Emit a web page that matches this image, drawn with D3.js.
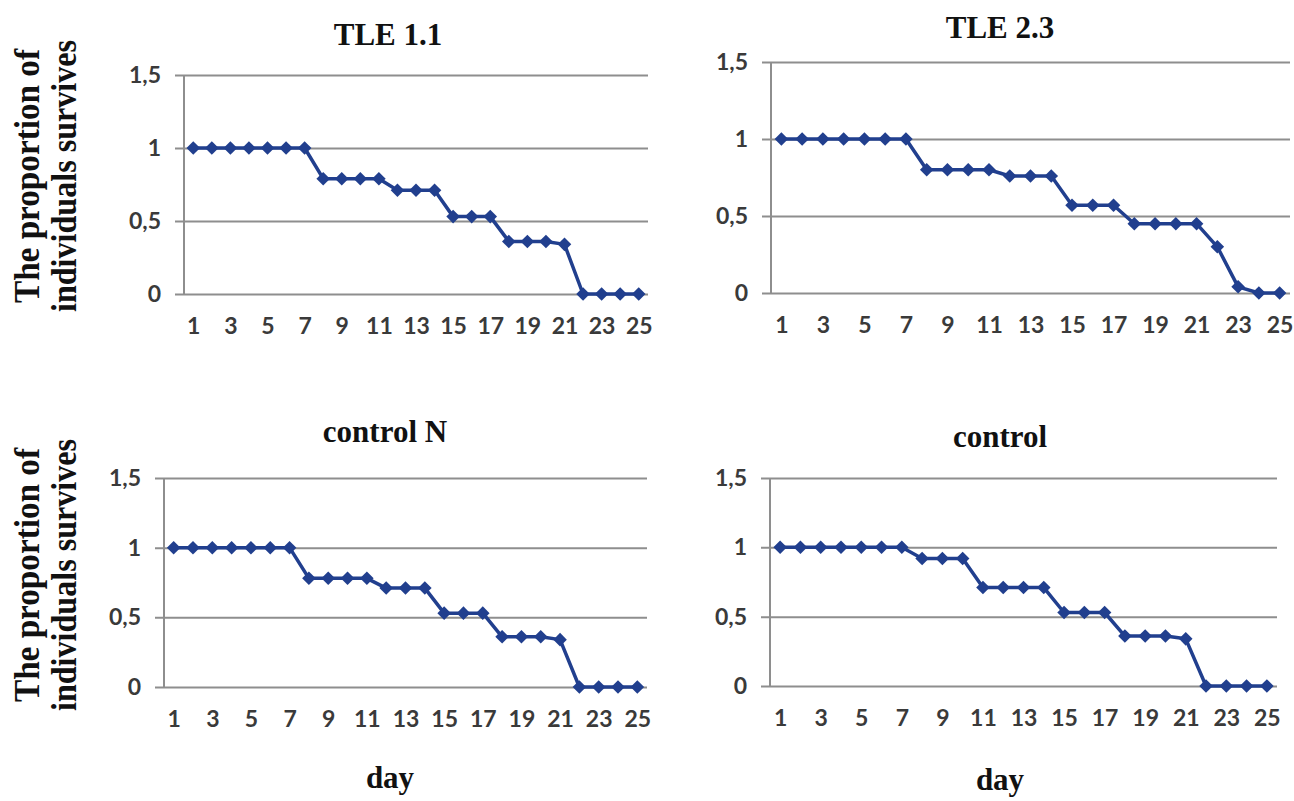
<!DOCTYPE html>
<meta charset="utf-8">
<style>
    body { margin: 0; background: #fff; }
    .grid line { stroke: #8e8e8e; stroke-width: 2; }
    .tick text { font-family: Lato, "Open Sans", sans-serif; font-weight: bold; font-size: 23px; fill: #3a3a3a; }
    .title { font-family: "Liberation Serif", "Times New Roman", serif; font-weight: bold; font-size: 31px; fill: #111; }
</style>
<svg width="1294" height="801"></svg>
<script src="https://cdn.jsdelivr.net/npm/d3@7/dist/d3.min.js"></script>
<script>

    var days = d3.range(1, 26);
    var dayTicks = [1, 3, 5, 7, 9, 11, 13, 15, 17, 19, 21, 23, 25];
    var yTicks = [0, 0.5, 1, 1.5];

    var tle11 = [1, 1, 1, 1, 1, 1, 1, 0.79, 0.79, 0.79, 0.79, 0.71, 0.71, 0.71,
                 0.53, 0.53, 0.53, 0.36, 0.36, 0.36, 0.34, 0, 0, 0, 0];
    var tle23 = [1, 1, 1, 1, 1, 1, 1, 0.8, 0.8, 0.8, 0.8, 0.76, 0.76, 0.76,
                 0.57, 0.57, 0.57, 0.45, 0.45, 0.45, 0.45, 0.3, 0.04, 0, 0];
    var controlN = [1, 1, 1, 1, 1, 1, 1, 0.78, 0.78, 0.78, 0.78, 0.71, 0.71, 0.71,
                    0.53, 0.53, 0.53, 0.36, 0.36, 0.36, 0.34, 0, 0, 0, 0];
    var control = [1, 1, 1, 1, 1, 1, 1, 0.92, 0.92, 0.92, 0.71, 0.71, 0.71, 0.71,
                   0.53, 0.53, 0.53, 0.36, 0.36, 0.36, 0.34, 0, 0, 0, 0];

    var titles = ["TLE 1.1", "TLE 2.3", "control N", "control"];

    // plot frames: left/right of plot area, y of 1.5 and y of 0
    var panels = [
        {name: titles[0], values: tle11,    left: 184, right: 648,  top: 75,  bottom: 294, tx: 388,  ty: 45},
        {name: titles[1], values: tle23,    left: 771, right: 1290, top: 62,  bottom: 293, tx: 1000, ty: 38},
        {name: titles[2], values: controlN, left: 164, right: 647,  top: 478, bottom: 687, tx: 385,  ty: 442},
        {name: titles[3], values: control,  left: 770, right: 1277, top: 478, bottom: 686, tx: 1000, ty: 447}
    ];

    var svg = d3.select("svg");
    var blue = "#213f8e";

    panels.forEach(function(p) {
        var x = d3.scalePoint().domain(days).range([p.left, p.right]).padding(0.5),
            y = d3.scaleLinear().domain([0, 1.5]).range([p.bottom, p.top]);

        var w = p.right - p.left;

        svg.append("g")
                .attr("class", "grid")
                .attr("transform", "translate(" + (p.left - 9) + ",0)")
                .call(d3.axisLeft(y).tickValues(yTicks).tickSize(-(w + 9)).tickPadding(14)
                    .tickFormat(function(d) { return String(d).replace(".", ","); }))
                .call(function(g) { g.select(".domain").remove(); });

        svg.append("line")
                .attr("x1", p.left).attr("x2", p.left)
                .attr("y1", p.top).attr("y2", p.bottom)
                .attr("stroke", "#8e8e8e").attr("stroke-width", 2);

        svg.append("g")
                .attr("transform", "translate(0," + p.bottom + ")")
                .call(d3.axisBottom(x).tickValues(dayTicks).tickSize(0).tickPadding(24))
                .call(function(g) { g.select(".domain").remove(); });

        var pts = days.map(function(d, i) { return {day: d, v: p.values[i]}; });

        svg.append("path")
                .datum(pts)
                .attr("fill", "none")
                .attr("stroke", blue)
                .attr("stroke-width", 3.5)
                .attr("stroke-linejoin", "round")
                .attr("d", d3.line().x(function(d) { return x(d.day); }).y(function(d) { return y(d.v); }));

        svg.selectAll(null)
                .data(pts)
                .enter().append("path")
                .attr("fill", blue)
                .attr("d", d3.symbol().type(d3.symbolSquare).size(92))
                .attr("transform", function(d) { return "translate(" + x(d.day) + "," + y(d.v) + ") rotate(45)"; });

        svg.append("text")
                .attr("class", "title")
                .attr("x", p.tx).attr("y", p.ty)
                .attr("text-anchor", "middle")
                .text(p.name);
    });

    // x axis titles
    [[390, 788], [1000, 790]].forEach(function(pos) {
        svg.append("text").attr("class", "title")
                .attr("x", pos[0]).attr("y", pos[1])
                .attr("text-anchor", "middle")
                .text("day");
    });

    // y axis titles
    [176, 575].forEach(function(cy) {
        var t = svg.append("text").attr("class", "title")
                .attr("transform", "translate(0," + cy + ") rotate(-90)")
                .attr("text-anchor", "middle")
                .style("font-size", "36px");
        t.append("tspan").attr("x", 0).attr("y", 39)
                .attr("textLength", 254).attr("lengthAdjust", "spacingAndGlyphs")
                .text("The proportion of");
        t.append("tspan").attr("x", 0).attr("y", 76)
                .attr("textLength", 272).attr("lengthAdjust", "spacingAndGlyphs")
                .text("individuals survives");
    });
</script>
